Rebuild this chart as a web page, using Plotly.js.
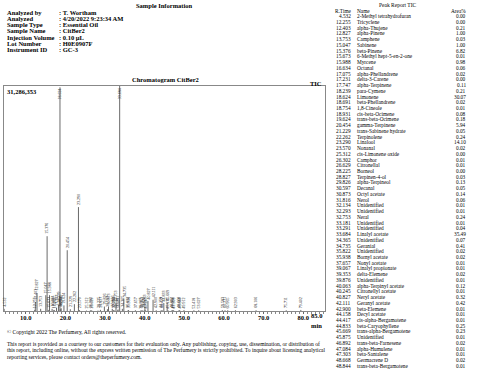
<!DOCTYPE html>
<html>
<head>
<meta charset="utf-8">
<script src="https://cdn.plot.ly/plotly-3.0.1.min.js"></script>
<style>html,body{margin:0;padding:0;background:#fff;}#chart{width:480px;height:372px;}</style>
</head>
<body>
<div id="chart"></div>
<script>
// ---------- data ----------
const infoLabels = ["Analyzed by", "Analyzed", "Sample Type", "Sample Name", "Injection Volume", "Lot Number", "Instrument ID"];
const infoValues = ["T. Wortham", "4/20/2022 9:23:34 AM", "Essential Oil", "CitBer2", "0.10 \u00b5L", "H0E0907F", "GC-3"];

const peakRT = [4.532, 12.255, 12.403, 12.827, 13.753, 15.047, 15.376, 15.673, 15.988, 16.634,
  17.075, 17.231, 17.747, 18.239, 18.624, 18.691, 18.754, 18.931, 19.624, 20.454,
  21.229, 22.262, 23.290, 23.570, 25.312, 26.302, 26.629, 28.225, 28.827, 29.826,
  30.597, 30.873, 31.816, 32.134, 32.293, 32.753, 33.181, 33.291, 33.684, 34.365,
  34.735, 35.822, 35.938, 37.657, 39.067, 39.353, 39.876, 40.063, 40.245, 40.827,
  42.111, 42.900, 44.158, 44.417, 44.833, 45.669, 45.875, 46.892, 47.084, 47.303,
  48.668, 48.844];
const peakName = ["2-Methyl tetrahydrofuran", "Tricyclene", "alpha-Thujene", "alpha-Pinene", "Camphene", "Sabinene", "beta-Pinene", "6-Methyl hept-5-en-2-one", "Myrcene", "Octanal",
  "alpha-Phellandrene", "delta-3-Carene", "alpha-Terpinene", "para-Cymene", "Limonene", "beta-Phellandrene", "1,8-Cineole", "cis-beta-Ocimene", "trans-beta-Ocimene", "gamma-Terpinene",
  "trans-Sabinene hydrate", "Terpinolene", "Linalool", "Nonanal", "cis-Limonene oxide", "Camphor", "Citronellal", "Borneol", "Terpinen-4-ol", "alpha-Terpineol",
  "Decanal", "Octyl acetate", "Nerol", "Unidentified", "Unidentified", "Neral", "Unidentified", "Unidentified", "Linalyl acetate", "Unidentified",
  "Geranial", "Unidentified", "Bornyl acetate", "Nonyl acetate", "Linalyl propionate", "delta-Elemene", "Unidentified", "alpha-Terpinyl acetate", "Citronellyl acetate", "Neryl acetate",
  "Geranyl acetate", "beta-Elemene", "Decyl acetate", "cis-alpha-Bergamotene", "beta-Caryophyllene", "trans-alpha-Bergamotene", "Unidentified", "trans-beta-Farnesene", "alpha-Humulene", "beta-Santalene",
  "Germacrene D", "trans-beta-Bergamotene"];
const peakArea = ["0.00", "0.00", "0.21", "1.00", "0.03", "1.00", "6.82", "0.01", "0.98", "0.06",
  "0.02", "0.00", "0.11", "0.21", "30.07", "0.02", "0.01", "0.08", "0.18", "5.94",
  "0.05", "0.24", "14.10", "0.02", "0.00", "0.01", "0.01", "0.00", "0.03", "0.13",
  "0.05", "0.14", "0.06", "0.01", "0.01", "0.24", "0.01", "0.04", "35.49", "0.07",
  "0.41", "0.02", "0.02", "0.01", "0.01", "0.02", "0.01", "0.12", "0.01", "0.32",
  "0.42", "0.01", "0.01", "0.01", "0.25", "0.23", "0.01", "0.02", "0.01", "0.01",
  "0.02", "0.01"];
// peak heights (counts)
const peakHeight = [300000, 150000, 1250000, 2500000, 300000, 2200000, 10400000, 150000, 2200000, 300000,
  150000, 100000, 450000, 900000, 31100000, 300000, 150000, 380000, 780000, 8450000,
  250000, 950000, 14450000, 120000, 60000, 100000, 100000, 60000, 160000, 620000,
  250000, 620000, 300000, 100000, 100000, 1100000, 100000, 220000, 31286353, 300000,
  1700000, 120000, 120000, 100000, 100000, 120000, 100000, 560000, 100000, 1400000,
  1560000, 100000, 100000, 100000, 1100000, 1100000, 100000, 120000, 100000, 100000,
  120000, 100000];
// later peaks visible on the trace (table rows are cut off)
const extraRT = [49.912, 52.418, 53.627, 59.583, 60.271, 60.965, 62.903, 68.106, 75.711, 79.402];
const extraHeight = [120000, 100000, 100000, 120000, 100000, 100000, 100000, 100000, 100000, 150000];

const yTop = 31286353;
const tickVals = [10, 20, 30, 40, 50, 60, 70, 80];
const tickText = ["10.0", "20.0", "30.0", "40.0", "50.0", "60.0", "70.0", "80.0"];
const footerLines = [
  "\u00a9 Copyright 2022 The Perfumery, All rights reserved.",
  "This report is provided as a courtesy to our customers for their evaluation only. Any publishing, copying, use, dissemination, or distribution of",
  "this report, including online, without the express written permission of The Perfumery is strictly prohibited. To inquire about licensing analytical",
  "reporting services, please contact orders@theperfumery.com."
];

// ---------- build ----------
const W = 480, H = 372;
const SERIF = "Liberation Serif, Times New Roman, serif";
const anns = [];
function ann(text, xpx, ypx, size, xanchor, bold, extra) {
  const a = Object.assign({
    text: text, xref: "paper", yref: "paper", x: xpx / W, y: 1 - ypx / H,
    xanchor: xanchor, yanchor: "middle", showarrow: false, borderpad: 0,
    font: {family: SERIF, size: size, color: "#000", weight: bold ? "bold" : "normal"}
  }, extra || {});
  anns.push(a);
}

ann("Sample Information", 164, 5.5, 6.5, "center", true);
infoLabels.forEach((l, i) => {
  const y = 12.3 + 6.2 * i;
  ann(l, 6, y, 6.5, "left", true);
  ann(": " + infoValues[i], 58, y, 6.5, "left", true);
});
ann("Chromatogram CitBer2", 165, 79, 6.5, "center", true);
ann("31,286,353", 6, 91, 6.5, "left", true);
ann("TIC", 323, 83, 6.5, "right", true);
ann("min", 323, 325, 6.5, "right", true);
ann("85.0", 323, 315, 6.5, "right", true);
footerLines.forEach((t, i) => {
  const y = [332.3, 344, 350.3, 356.6][i];
  ann(t, 6, y, 5.5, "left", false);
});

// table
ann("Peak Report TIC", 397.5, 5, 5.5, "center", false);
ann("R.Time", 352.3, 11, 5.3, "right", false);
ann("Name", 356, 11, 5.3, "left", false);
ann("Area%", 466.7, 11, 5.3, "right", false);
peakRT.forEach((rt, i) => {
  const y = 16.3 + 5.73 * i;
  ann(rt.toFixed(3), 352.3, y, 5.3, "right", false);
  ann(peakName[i], 356, y, 5.3, "left", false);
  ann(peakArea[i], 466.7, y, 5.3, "right", false);
});

// peak sticks
const allRT = peakRT.concat(extraRT);
const allH = peakHeight.concat(extraHeight);
const xs = [], ys = [];
allRT.forEach((rt, i) => { xs.push(rt, rt, null); ys.push(0, allH[i], null); });

allRT.forEach((rt, i) => {
  const top = allH[i] >= yTop * 0.98;
  anns.push({
    text: rt.toFixed(3), xref: "x", yref: "y", x: rt, y: top ? yTop : allH[i],
    xanchor: "center", yanchor: top ? "top" : "bottom", yshift: top ? -1 : 1,
    textangle: -90, showarrow: false, borderpad: 0,
    font: {family: SERIF, size: 4, color: "#222"}
  });
});

const trace = {
  type: "scatter", mode: "lines", x: xs, y: ys,
  line: {color: "#6a6a6a", width: 1}, hoverinfo: "skip", connectgaps: false
};

const layout = {
  width: W, height: H, margin: {l: 0, r: 0, t: 0, b: 0},
  paper_bgcolor: "#fff", plot_bgcolor: "#fff", showlegend: false,
  xaxis: {
    domain: [4 / W, 325 / W], range: [4.5, 85.5], showgrid: false, zeroline: false,
    showline: true, linecolor: "#888", linewidth: 1, mirror: true,
    tickmode: "array", tickvals: tickVals, ticktext: tickText,
    ticks: "outside", ticklen: 2, tickcolor: "#666", ticklabelstandoff: -2,
    tickfont: {family: SERIF, size: 6.5, color: "#000", weight: "bold"},
    minor: {tickmode: "linear", tick0: 0, dtick: 1, ticks: "outside", ticklen: 1.5, tickcolor: "#888", showgrid: false}
  },
  yaxis: {
    domain: [1 - 311 / H, 1 - 86 / H], range: [0, yTop], showgrid: false, zeroline: false,
    showline: true, linecolor: "#888", linewidth: 1, mirror: true,
    showticklabels: false, ticks: ""
  },
  annotations: anns
};

Plotly.newPlot("chart", [trace], layout, {staticPlot: true, displayModeBar: false});
</script>
</body>
</html>
